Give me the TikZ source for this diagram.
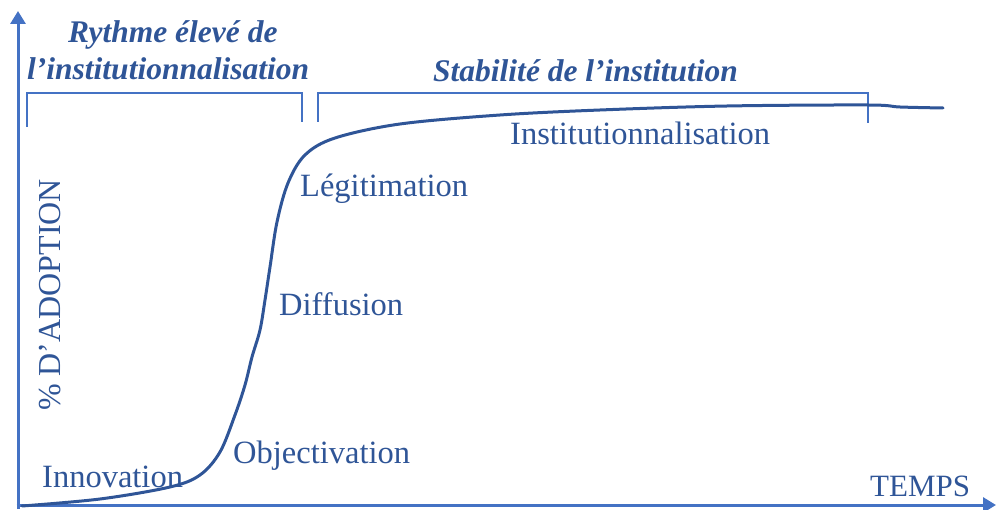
\documentclass[tikz,border=0pt]{standalone}
\usepackage{fontspec}
\setmainfont{Liberation Serif}
\usetikzlibrary{arrows.meta}
\definecolor{txtblue}{HTML}{2F5597}
\definecolor{axblue}{HTML}{4472C4}
\begin{document}
\begin{tikzpicture}[x=1pt,y=-1pt,
  lbl/.style={anchor=base west,inner sep=0pt,text=txtblue,font=\fontsize{32.5}{36}\selectfont},
  ttl/.style={anchor=base west,inner sep=0pt,text=txtblue,font=\fontsize{31.5}{36}\selectfont\bfseries\itshape},
  axis/.style={draw=axblue,line width=3pt,-{Triangle[length=13pt,width=15pt]}},
  brace/.style={draw=axblue,line width=1.3pt},
  curve/.style={draw=txtblue,line width=3pt,line cap=round}]
\useasboundingbox (0,0) rectangle (996,510);
% axes
\coordinate (o) at (18,506);
\coordinate (ytop) at (18,11);
\coordinate (xend) at (996,505);
\draw[axis] (18,509) -- (ytop);
\draw[axis] (16.5,505) -- (xend);
% brackets
\draw[brace] (27,127) -- (27,93) -- (302,93) -- (302,122);
\draw[brace] (318,122) -- (318,93) -- (868,93) -- (868,123);
% curve
\draw[curve] plot[smooth,tension=0.55] coordinates {
 (22,506) (100,499) (170,487) (200,475) (220,452) (235,415) (245,385)
 (252,357) (260,330) (265,300) (270,267) (277,222) (288,183) (305,155)
 (335,138) (400,124) (500,115) (600,110) (727,106) (868,105) (900,107) (943,108)};
% titles
\node[ttl] (t1) at (68,43) {Rythme élevé de};
\node[ttl] (t2) at (27,80) {l’institutionnalisation};
\node[ttl] (t3) at (433,82) {Stabilité de l’institution};
% labels
\node[lbl] (inst) at (510,145) {Institutionnalisation};
\node[lbl] (leg) at (300,197) {Légitimation};
\node[lbl] (dif) at (279,316) {Diffusion};
\node[lbl] (obj) at (233,463) {Objectivation};
\node[lbl] (inn) at (42,487) {Innovation};
\node[lbl,font=\fontsize{31}{36}\selectfont] (tps) at (870,496) {TEMPS};
\node[anchor=center,inner sep=0pt,text=txtblue,font=\fontsize{32}{36}\selectfont,rotate=90] (ado) at (50,295) {\% D’ADOPTION};
\end{tikzpicture}
\end{document}
